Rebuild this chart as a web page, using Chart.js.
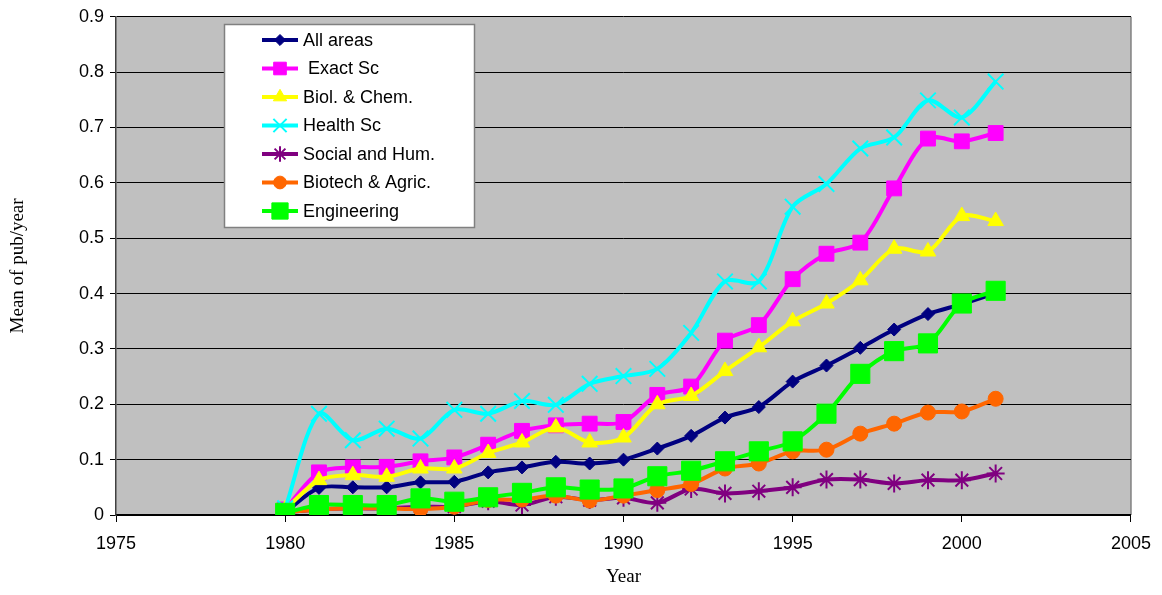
<!DOCTYPE html>
<html>
<head>
<meta charset="utf-8">
<script src="https://cdn.jsdelivr.net/npm/chart.js@4/dist/chart.umd.min.js"></script>
<style>
  body { margin: 0; background: #fff; }
</style>
</head>
<body>
<canvas id="grafico" width="1162" height="595"></canvas>
<script>
//#region Dados
const anos = [1980, 1981, 1982, 1983, 1984, 1985, 1986, 1987, 1988, 1989, 1990,
  1991, 1992, 1993, 1994, 1995, 1996, 1997, 1998, 1999, 2000, 2001];

const allAreas = [0.005, 0.049, 0.05, 0.05, 0.059, 0.06, 0.077, 0.086, 0.096, 0.093, 0.1,
  0.12, 0.143, 0.176, 0.195, 0.241, 0.27, 0.302, 0.335, 0.363, 0.381, 0.401];
const exactSc = [0.01, 0.077, 0.086, 0.087, 0.097, 0.104, 0.127, 0.152, 0.162, 0.165, 0.168,
  0.217, 0.232, 0.315, 0.343, 0.426, 0.472, 0.492, 0.59, 0.68, 0.675, 0.69];
const biolChem = [0.01, 0.063, 0.072, 0.069, 0.084, 0.084, 0.112, 0.131, 0.158, 0.131, 0.14,
  0.2, 0.215, 0.26, 0.303, 0.35, 0.382, 0.424, 0.481, 0.476, 0.54, 0.531];
const healthSc = [0.012, 0.183, 0.135, 0.156, 0.138, 0.19, 0.183, 0.206, 0.199, 0.237, 0.251,
  0.264, 0.329, 0.422, 0.422, 0.557, 0.598, 0.662, 0.682, 0.749, 0.718, 0.783];
const socialHum = [0.005, 0.01, 0.012, 0.012, 0.015, 0.015, 0.025, 0.018, 0.033, 0.027, 0.031,
  0.022, 0.047, 0.039, 0.043, 0.05, 0.064, 0.064, 0.057, 0.063, 0.063, 0.075];
const biotechAgric = [0.005, 0.01, 0.012, 0.012, 0.011, 0.015, 0.027, 0.028, 0.035, 0.026, 0.035,
  0.045, 0.056, 0.084, 0.093, 0.115, 0.118, 0.147, 0.165, 0.185, 0.187, 0.21];
const engineering = [0.004, 0.018, 0.018, 0.018, 0.03, 0.024, 0.032, 0.04, 0.05, 0.046, 0.048,
  0.07, 0.08, 0.097, 0.115, 0.133, 0.183, 0.255, 0.296, 0.31, 0.382, 0.405];

const eixoXTicks = [1975, 1980, 1985, 1990, 1995, 2000, 2005];
const eixoYTicks = [0, 0.1, 0.2, 0.3, 0.4, 0.5, 0.6, 0.7, 0.8, 0.9];
//#endregion

const fonteSans = 'Liberation Sans, Arial, sans-serif';
const fonteSerif = 'Liberation Serif, Times New Roman, serif';

function pontos(valores) {
  return valores.map((v, i) => ({ x: anos[i], y: v }));
}

function serie(label, valores, cor, estilo, raio, bordaPonto, ordem) {
  return {
    label: label,
    data: pontos(valores),
    borderColor: cor,
    backgroundColor: cor,
    borderWidth: 4,
    tension: 0.3,
    pointStyle: estilo,
    pointRadius: raio,
    pointBorderWidth: bordaPonto,
    pointBackgroundColor: cor,
    pointBorderColor: cor,
    order: ordem
  };
}

//#region Plugins: fundo cinza da área do gráfico e legenda interna
const fundoArea = {
  id: 'fundoArea',
  beforeDraw(chart) {
    const { ctx, chartArea: a } = chart;
    ctx.save();
    ctx.fillStyle = '#C0C0C0';
    ctx.fillRect(a.left, a.top, a.right - a.left, a.bottom - a.top);
    ctx.strokeStyle = '#808080';
    ctx.lineWidth = 1.5;
    ctx.beginPath();
    ctx.moveTo(a.right, a.top);
    ctx.lineTo(a.right, a.bottom);
    ctx.stroke();
    ctx.restore();
  }
};

const legendaInterna = {
  id: 'legendaInterna',
  afterDatasetsDraw(chart) {
    const ctx = chart.ctx;
    ctx.save();
    ctx.fillStyle = '#fff';
    ctx.fillRect(224, 24, 251, 203);
    ctx.strokeStyle = '#808080';
    ctx.lineWidth = 1.5;
    ctx.strokeRect(224.5, 24.5, 250, 203);

    chart.data.datasets.forEach((ds, i) => {
      const y = 40 + i * 28.5;
      ctx.strokeStyle = ds.borderColor;
      ctx.lineWidth = 4;
      ctx.beginPath();
      ctx.moveTo(262, y);
      ctx.lineTo(298, y);
      ctx.stroke();

      ctx.fillStyle = ds.pointBackgroundColor;
      ctx.strokeStyle = ds.pointBorderColor;
      ctx.lineWidth = ds.pointBorderWidth;
      Chart.helpers.drawPoint(ctx, {
        pointStyle: ds.pointStyle,
        radius: ds.pointRadius * 0.85,
        rotation: 0,
        borderWidth: ds.pointBorderWidth
      }, 280, y);

      ctx.fillStyle = '#000';
      ctx.font = '18px ' + fonteSans;
      ctx.textBaseline = 'middle';
      ctx.textAlign = 'left';
      ctx.fillText(ds.label, 303, y + 1);
    });
    ctx.restore();
  }
};
//#endregion

const ctx = document.getElementById('grafico').getContext('2d');

new Chart(ctx, {
  type: 'line',
  data: {
    datasets: [
      serie('All areas', allAreas, '#000080', 'rectRot', 6.5, 1, 6),
      serie(' Exact Sc', exactSc, '#FF00FF', 'rect', 10.5, 1, 5),
      serie('Biol. & Chem.', biolChem, '#FFFF00', 'triangle', 9, 1, 4),
      serie('Health Sc', healthSc, '#00FFFF', 'crossRot', 11, 2, 3),
      serie('Social and Hum.', socialHum, '#800080', 'star', 9, 2, 2),
      serie('Biotech & Agric.', biotechAgric, '#FF6600', 'circle', 7.5, 1, 1),
      serie('Engineering', engineering, '#00FF00', 'rect', 13.5, 1, 0)
    ]
  },
  options: {
    responsive: false,
    animation: false,
    layout: { padding: { top: 14, right: 30, bottom: 0, left: 0 } },
    plugins: {
      legend: { display: false },
      tooltip: { enabled: false }
    },
    scales: {
      x: {
        type: 'linear',
        min: 1975,
        max: 2005,
        afterBuildTicks: (s) => { s.ticks = eixoXTicks.map(v => ({ value: v })); },
        afterFit: (s) => { s.height = 80; },
        ticks: {
          color: '#000',
          padding: 11,
          font: { family: fonteSans, size: 18 },
          callback: (v) => String(v)
        },
        grid: { drawOnChartArea: false, color: '#000', tickLength: 7 },
        border: { color: '#000', width: 1.5 },
        title: {
          display: true,
          text: 'Year',
          color: '#000',
          font: { family: fonteSerif, size: 19 },
          padding: { top: 0, bottom: 7 }
        }
      },
      y: {
        min: 0,
        max: 0.9,
        afterBuildTicks: (s) => { s.ticks = eixoYTicks.map(v => ({ value: v })); },
        afterFit: (s) => { s.width = 116; },
        ticks: {
          color: '#000',
          padding: 6,
          font: { family: fonteSans, size: 18 },
          callback: (v) => String(v)
        },
        grid: { color: '#000', lineWidth: 1, tickLength: 6 },
        border: { color: '#404040', width: 1.5 },
        title: {
          display: true,
          text: 'Mean of pub/year',
          color: '#000',
          font: { family: fonteSerif, size: 19 },
          padding: { top: 7, bottom: 0 }
        }
      }
    }
  },
  plugins: [fundoArea, legendaInterna]
});
</script>
</body>
</html>
